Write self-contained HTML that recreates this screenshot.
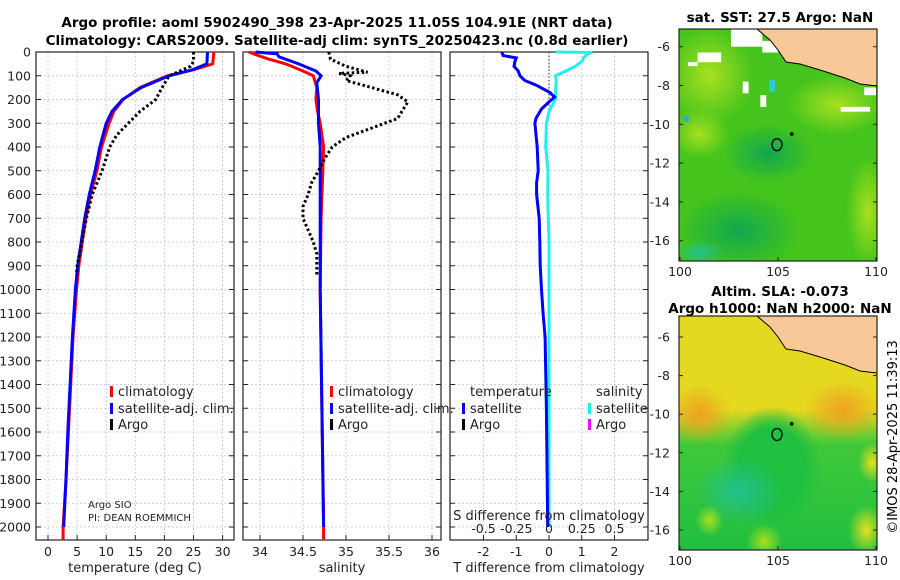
<!DOCTYPE html>
<html><head><meta charset="utf-8"><style>
body{margin:0;background:#fff}
svg{display:block;font-family:"DejaVu Sans","Liberation Sans",sans-serif}
</style></head><body>
<svg id="c" width="900" height="580" xmlns="http://www.w3.org/2000/svg">
<defs>
<radialGradient id="o1"><stop offset="0" stop-color="#f0a020"/><stop offset="1" stop-color="#f0a020" stop-opacity="0"/></radialGradient>
<radialGradient id="y1"><stop offset="0" stop-color="#e6e020"/><stop offset="1" stop-color="#e6e020" stop-opacity="0"/></radialGradient>
<radialGradient id="t1"><stop offset="0" stop-color="#20c090"/><stop offset="1" stop-color="#20c090" stop-opacity="0"/></radialGradient>
<radialGradient id="g1"><stop offset="0" stop-color="#a8e020"/><stop offset="1" stop-color="#a8e020" stop-opacity="0"/></radialGradient>
<radialGradient id="d1"><stop offset="0" stop-color="#10a850"/><stop offset="1" stop-color="#10a850" stop-opacity="0"/></radialGradient>
<radialGradient id="gr"><stop offset="0" stop-color="#20c040"/><stop offset="0.65" stop-color="#20c040"/><stop offset="1" stop-color="#20c040" stop-opacity="0"/></radialGradient>
<linearGradient id="slaV" x1="0" y1="0" x2="0" y2="1">
<stop offset="0" stop-color="#e4d820"/><stop offset="0.4" stop-color="#e4d820"/><stop offset="0.55" stop-color="#40c838"/><stop offset="1" stop-color="#20c040"/></linearGradient>
<clipPath id="m1c"><rect x="679" y="29" width="198" height="232"/></clipPath>
<clipPath id="m2c"><rect x="679" y="316" width="198" height="234"/></clipPath>
</defs>
<g id="titles" font-weight="bold" font-size="13.5" text-anchor="middle">
<text x="337" y="27">Argo profile: aoml 5902490_398 23-Apr-2025 11.05S 104.91E (NRT data)</text>
<text x="337" y="45">Climatology: CARS2009. Satellite-adj clim: synTS_20250423.nc (0.8d earlier)</text>
<text x="780" y="22">sat. SST: 27.5 Argo: NaN</text>
<text x="780" y="296">Altim. SLA: -0.073</text>
<text x="780" y="313">Argo h1000: NaN h2000: NaN</text>
</g>
<g id="panels"></g>
<g id="maps"></g>
<text x="897" y="437" transform="rotate(-90 897 437)" font-size="13" text-anchor="middle">©IMOS 28-Apr-2025 11:39:13</text>
</svg>
<script>
// ---- data ----
const tClimDepth=[0,50,75,100,150,200,250,300,400,500,600,700,800,900,1000,1200,1400,1600,1800,2000,2055];
const tClim=[28.5,28.3,25,20.5,15.8,12.9,11.3,10.5,9.2,8.4,7.3,6.5,5.9,5.3,4.9,4.3,3.9,3.5,3.1,2.6,2.6];
const tSatDepth=[0,50,75,100,150,200,250,300,400,500,600,700,800,900,1000,1200,1400,1600,1800,2000];
const tSat=[27.4,27.3,24.8,20.8,16.0,12.8,11.0,10.0,8.9,8.1,7.1,6.3,5.7,5.1,4.7,4.2,3.8,3.4,3.1,2.7];
const tArgoDepth=[0,40,60,100,150,200,250,300,350,400,500,600,700,800,900,940];
const tArgo=[25,25,24.5,20.8,19.6,18.5,15.8,13.8,11.8,10.6,9.3,7.6,6.6,5.8,5.0,4.9];
const sClimDepth=[0,15,30,50,80,100,150,200,250,300,400,500,600,700,1000,1500,2000,2055];
const sClim=[33.87,33.98,34.1,34.3,34.5,34.62,34.66,34.65,34.67,34.7,34.74,34.73,34.72,34.71,34.7,34.72,34.74,34.74];
const sSatDepth=[0,8,20,50,80,100,130,200,300,400,1000,1500,2000];
const sSat=[33.95,34.2,34.22,34.45,34.65,34.71,34.66,34.68,34.68,34.7,34.7,34.72,34.74];
const sArgoDepth=[0,30,60,85,90,100,120,150,180,210,250,280,320,360,400,450,500,550,600,650,700,800,850,940];
const sArgo=[34.8,34.82,35.0,35.25,34.92,35.05,35.0,35.3,35.6,35.72,35.65,35.6,35.3,35.0,34.84,34.75,34.68,34.6,34.56,34.5,34.5,34.62,34.66,34.66];
const dTDepth=[0,15,25,40,60,80,100,120,140,170,190,210,240,280,300,400,500,550,600,700,800,900,1000,1100,1200,1500,2000];
const dT=[-1.44,-1.4,-1.0,-1.04,-1.07,-0.94,-0.89,-0.74,-0.38,0.02,0.17,0,-0.23,-0.4,-0.43,-0.36,-0.33,-0.38,-0.38,-0.3,-0.28,-0.27,-0.23,-0.18,-0.12,-0.08,-0.04];
const dSDepth=[0,2,10,20,40,60,80,100,120,170,200,250,300,400,500,600,800,1000,2000];
const dS=[0.05,0.33,0.29,0.27,0.25,0.2,0.13,0.05,0.056,0.05,0.05,0,-0.02,-0.025,-0.008,-0.01,0,0,0];
const depthTicks=[0,100,200,300,400,500,600,700,800,900,1000,1100,1200,1300,1400,1500,1600,1700,1800,1900,2000];
const tTicks=[0,5,10,15,20,25,30];
const sTicks=[34,34.5,35,35.5,36];
const dTTicks=[-2,-1,0,1,2];
const dSTicks=[-0.5,-0.25,0,0.25,0.5];
const dSTickLabels=["-0.5","-0.25","0","0.25","0.5"];
const latTicks=[-6,-8,-10,-12,-14,-16];
const lonTicks=[100,105,110];

const NS="http://www.w3.org/2000/svg";
function mk(t,a,p){const e=document.createElementNS(NS,t);for(const k in a)e.setAttribute(k,a[k]);p.appendChild(e);return e;}
const P=document.getElementById('panels');
const yD=d=>52+d*0.2375;
const xT=v=>48+v*5.82, xS=v=>260+(v-34)*86, xDT=v=>549+v*32.75, xDS=v=>549+v*131;
const panels=[{x0:36,x1:234,name:'temperature-panel'},{x0:243,x1:441,name:'salinity-panel'},{x0:450,x1:648,name:'difference-panel'}];
function line(dep,val,fx,col,dash,w,name){
  const pts=dep.map((d,i)=>fx(val[i]).toFixed(1)+','+yD(Math.min(d,2055)).toFixed(1)).join(' ');
  const e=mk('polyline',{points:pts,fill:'none',stroke:col,'stroke-width':w},P);
  if(dash)e.setAttribute('stroke-dasharray',dash);
  
  
}
panels.forEach((p,pi)=>{
  const g=mk('g',{},P);
  
  
  depthTicks.forEach(d=>{
    const y=yD(d);
    mk('line',{x1:p.x0,x2:p.x1,y1:y,y2:y,stroke:'#b8c4e8','stroke-width':0.8,'stroke-dasharray':'2,2'},g);
    mk('line',{x1:p.x0,x2:p.x0+5,y1:y,y2:y,stroke:'#222'},g);
    mk('line',{x1:p.x1-5,x2:p.x1,y1:y,y2:y,stroke:'#222'},g);
    if(pi===0){const t=mk('text',{x:31,y:y+4.5,'font-size':12.5,'text-anchor':'end',fill:'#222'},g);t.textContent=d;
      }
  });
  const ticks=pi===0?tTicks:pi===1?sTicks:dTTicks, fx=pi===0?xT:pi===1?xS:xDT;
  ticks.forEach(v=>{const x=fx(v);
    mk('line',{x1:x,x2:x,y1:52,y2:540,stroke:'#b8c4e8','stroke-width':0.8,'stroke-dasharray':'2,2'},g);
    mk('line',{x1:x,x2:x,y1:540,y2:535,stroke:'#222'},g);
    const t=mk('text',{x:x,y:556,'font-size':12.5,'text-anchor':'middle',fill:'#222'},g);t.textContent=v;
    });
  mk('rect',{x:p.x0,y:52,width:p.x1-p.x0,height:488,fill:'none',stroke:'#222','stroke-width':1.2},g);
});
[['temperature (deg C)',135,'temperature-axis-title'],['salinity',342,'salinity-axis-title'],['T difference from climatology',549,'t-difference-axis-title']].forEach(a=>{
  const t=mk('text',{x:a[1],y:572,'font-size':13,'text-anchor':'middle',fill:'#222'},P);t.textContent=a[0];
  });
const zl=mk('line',{x1:549,x2:549,y1:52,y2:yD(260),stroke:'#333','stroke-width':1,'stroke-dasharray':'1.5,2'},P);

line(tClimDepth,tClim,xT,'#f00',null,3,'temp-climatology-line');
line(tSatDepth,tSat,xT,'#00f',null,3,'temp-satellite-line');
line(tArgoDepth,tArgo,xT,'#000','2.5,2.5',3,'temp-argo-line');
line(sClimDepth,sClim,xS,'#f00',null,3,'sal-climatology-line');
line(sSatDepth,sSat,xS,'#00f',null,3,'sal-satellite-line');
line(sArgoDepth,sArgo,xS,'#000','2.5,2.5',3,'sal-argo-line');
line(dSDepth,dS,xDS,'#20f0f0',null,3,'s-diff-satellite-line');
line(dTDepth,dT,xDT,'#00f',null,3,'t-diff-satellite-line');
const sl=mk('text',{x:549,y:520,'font-size':13,'text-anchor':'middle',fill:'#222'},P);sl.textContent='S difference from climatology';

dSTicks.forEach((v,i)=>{const t=mk('text',{x:xDS(v),y:533,'font-size':12.5,'text-anchor':'middle',fill:'#222'},P);t.textContent=dSTickLabels[i];
  });
function leg(x,y,col,txt,name){
  mk('rect',{x:x,y:y-10,width:3,height:11,fill:col},P);
  const t=mk('text',{x:x+8,y:y,'font-size':13,fill:'#222'},P);t.textContent=txt;
  }
leg(110,396,'#f00','climatology','legend-climatology');
leg(110,413,'#00f','satellite-adj. clim.','legend-satellite-adj');
leg(110,429,'#000','Argo','legend-argo');
leg(330,396,'#f00','climatology','legend-climatology-2');
leg(330,413,'#00f','satellite-adj. clim.','legend-satellite-adj-2');
leg(330,429,'#000','Argo','legend-argo-2');
[['temperature',470,396],['salinity',596,396]].forEach(a=>{const t=mk('text',{x:a[1],y:a[2],'font-size':13,fill:'#222'},P);t.textContent=a[0];
  });
leg(462,413,'#00f','satellite','legend-t-satellite');
leg(462,429,'#000','Argo','legend-t-argo');
leg(588,413,'#20f0f0','satellite','legend-s-satellite');
leg(588,429,'#f0f','Argo','legend-s-argo');
[['Argo SIO',508],['PI: DEAN ROEMMICH',521]].forEach(a=>{const t=mk('text',{x:88,y:a[1],'font-size':10,fill:'#222'},P);t.textContent=a[0];
  });
// ---- maps ----
const M=document.getElementById('maps');
function map(top,bot,y6,sc,clip,kind,name){
  const g=mk('g',{'clip-path':'url(#'+clip+')'},M);
  
  const lonX=l=>680+(l-100)*19.6;
  const ly=l=>y6+(-6-l)*sc;
  if(kind==='sst'){
    mk('rect',{x:679,y:0,width:200,height:600,fill:'#44c41c'},g);
    mk('ellipse',{cx:lonX(101.5),cy:ly(-7.5),rx:45,ry:50,fill:'url(#g1)'},g);
    mk('ellipse',{cx:lonX(109.6),cy:ly(-14.5),rx:22,ry:55,fill:'url(#g1)'},g);
    mk('ellipse',{cx:lonX(108),cy:ly(-9),rx:50,ry:30,fill:'url(#g1)'},g);
    mk('ellipse',{cx:lonX(101),cy:ly(-10.5),rx:30,ry:25,fill:'url(#g1)'},g);
    mk('ellipse',{cx:lonX(103),cy:ly(-15.5),rx:60,ry:40,fill:'url(#d1)'},g);
    mk('ellipse',{cx:lonX(104.5),cy:ly(-11.5),rx:45,ry:30,fill:'url(#d1)'},g);
    mk('ellipse',{cx:lonX(101),cy:ly(-16.6),rx:25,ry:12,fill:'url(#t1)'},g);
    [[100.9,-6.3,1.2,0.5],[102.6,-5.1,1.6,0.9],[104.2,-5.7,0.8,0.6],[103.2,-7.8,0.3,0.6],[104.1,-8.5,0.3,0.6],[108.2,-9.1,1.5,0.25],[109.4,-8.1,0.6,0.4],[100.4,-6.8,0.5,0.2]].forEach(w=>
      mk('rect',{x:lonX(w[0]),y:ly(w[1]),width:w[2]*19.6,height:w[3]*sc,fill:'#fff'},g));
    mk('rect',{x:lonX(104.55),y:ly(-7.7),width:6,height:12,fill:'#30c8e0'},g);
    mk('rect',{x:lonX(100.2),y:ly(-9.6),width:5,height:5,fill:'#30a0e0'},g);
  } else {
    mk('rect',{x:679,y:top,width:200,height:bot-top,fill:'url(#slaV)'},g);
    mk('ellipse',{cx:lonX(101),cy:ly(-10),rx:32,ry:30,fill:'url(#o1)'},g);
    mk('ellipse',{cx:lonX(108.3),cy:ly(-9.8),rx:38,ry:30,fill:'url(#o1)'},g);
    mk('ellipse',{cx:lonX(104.7),cy:ly(-12.8),rx:50,ry:62,fill:'url(#gr)'},g);
    mk('ellipse',{cx:lonX(103),cy:ly(-14),rx:45,ry:35,fill:'url(#t1)'},g);
    mk('ellipse',{cx:lonX(104.3),cy:ly(-16.6),rx:18,ry:18,fill:'url(#g1)'},g);
    mk('ellipse',{cx:lonX(109.5),cy:ly(-16),rx:18,ry:25,fill:'url(#y1)'},g);
    mk('ellipse',{cx:lonX(101.5),cy:ly(-15.5),rx:14,ry:16,fill:'url(#g1)'},g);
    mk('ellipse',{cx:lonX(109.8),cy:ly(-12.5),rx:14,ry:20,fill:'url(#y1)'},g);
  }
  const dy=top-29;
  const land=[[757,29],[770,40],[778,50],[786,62],[800,64],[820,70],[845,78],[860,84],[877,86],[877,29]].map(p=>p[0]+','+(p[1]+dy)).join(' ');
  const ld=mk('polygon',{points:land,fill:'#f8c898',stroke:'#000','stroke-width':1},g);
  
  mk('ellipse',{cx:lonX(104.95),cy:ly(-11.05),rx:5,ry:6,fill:'none',stroke:'#000','stroke-width':1.3},g);
  mk('circle',{cx:lonX(105.7),cy:ly(-10.5),r:1.8,fill:'#000'},g);
  mk('rect',{x:679,y:top,width:198,height:bot-top,fill:'none',stroke:'#222','stroke-width':1.2},M);
  latTicks.forEach(l=>{const y=ly(l);
    mk('line',{x1:679,x2:683,y1:y,y2:y,stroke:'#222'},M);mk('line',{x1:873,x2:877,y1:y,y2:y,stroke:'#222'},M);
    const t=mk('text',{x:670,y:y+4.5,'font-size':12.5,'text-anchor':'end',fill:'#222'},M);t.textContent=l;
    });
  lonTicks.forEach(l=>{const x=lonX(l);
    mk('line',{x1:x,x2:x,y1:bot,y2:bot-4,stroke:'#222'},M);
    const t=mk('text',{x:x,y:bot+15,'font-size':12.5,'text-anchor':'middle',fill:'#222'},M);t.textContent=l;
    });
}
map(29,261,46.7,19.4,'m1c','sst','sst-map');
map(316,550,337,19.3,'m2c','sla','sla-map');
</script>
</body></html>
